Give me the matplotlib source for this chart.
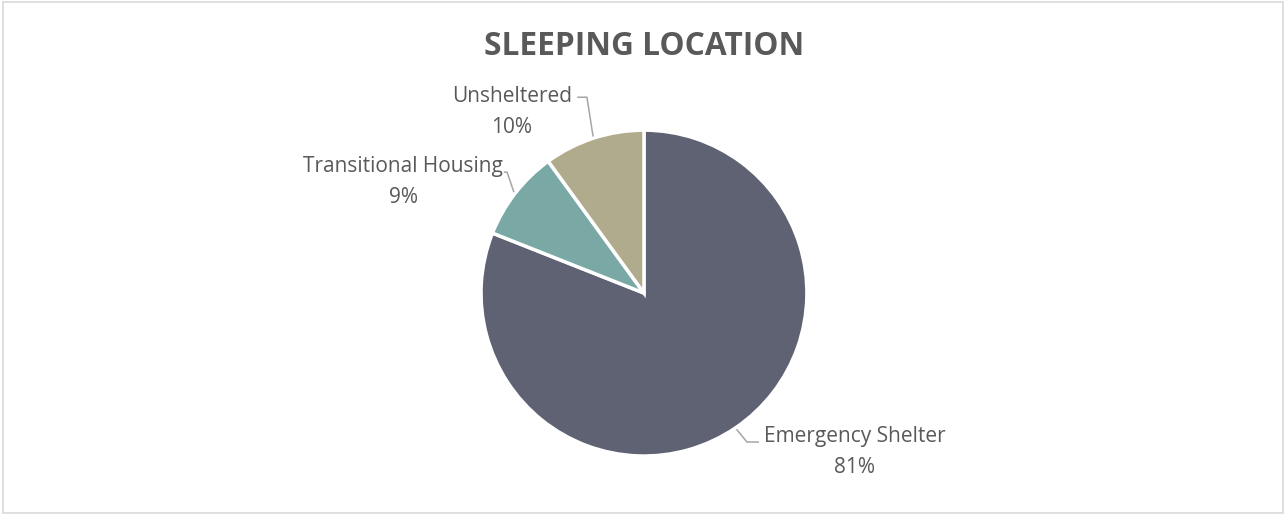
import numpy as np
import matplotlib
matplotlib.use("Agg")
import matplotlib.pyplot as plt

labels = ["Emergency Shelter", "Transitional Housing", "Unsheltered"]
shares = [81, 9, 10]
colors = ["#5F6272", "#7AA9A5", "#B1AB8E"]
title = "SLEEPING LOCATION"

# label block centres and leader elbows/ends (axes data units, radius = 1)
label_pos = [(1.294, -0.975), (-1.478, 0.68), (-0.81, 1.112)]
elbow_pos = [(0.632, -0.914), (-0.84, 0.742), (-0.35, 1.202)]
tail_pos = [(0.706, -0.914), (-0.86, 0.742), (-0.41, 1.202)]

plt.rcParams["font.family"] = ["Open Sans", "DejaVu Sans"]
text_col = "#595959"

fig = plt.figure(figsize=(12.86, 5.14), dpi=100)
fig.patches.append(plt.Rectangle((0.002, 0.002), 0.996, 0.994, transform=fig.transFigure,
                                 fill=False, edgecolor="#D9D9D9", linewidth=1.2))

ax = fig.add_axes([0.374, 0.1128, 0.2535, 0.634])
wedges, _ = ax.pie(shares, colors=colors, startangle=90, counterclock=False,
                   radius=1.0, wedgeprops=dict(edgecolor="white", linewidth=2.5))
ax.set_xlim(-1, 1)
ax.set_ylim(-1, 1)
ax.set_aspect("equal")
ax.axis("off")

total = sum(shares)
for w, lab, v, lp, ep, tp in zip(wedges, labels, shares, label_pos, elbow_pos, tail_pos):
    mid = np.deg2rad((w.theta1 + w.theta2) / 2)
    anchor = (1.01 * np.cos(mid), 1.01 * np.sin(mid))
    ax.plot([anchor[0], ep[0], tp[0]], [anchor[1], ep[1], tp[1]], color="#A6A6A6",
            linewidth=1.1, clip_on=False, solid_capstyle="butt")
    ax.text(lp[0], lp[1], f"{lab}\n{round(100 * v / total)}%", ha="center", va="center",
            fontsize=15, color=text_col, linespacing=1.62, clip_on=False)

fig.text(0.5008, 0.91, title, ha="center", va="center", fontsize=22.8,
         fontweight="bold", color=text_col)

fig.savefig("out.png", dpi=100)
